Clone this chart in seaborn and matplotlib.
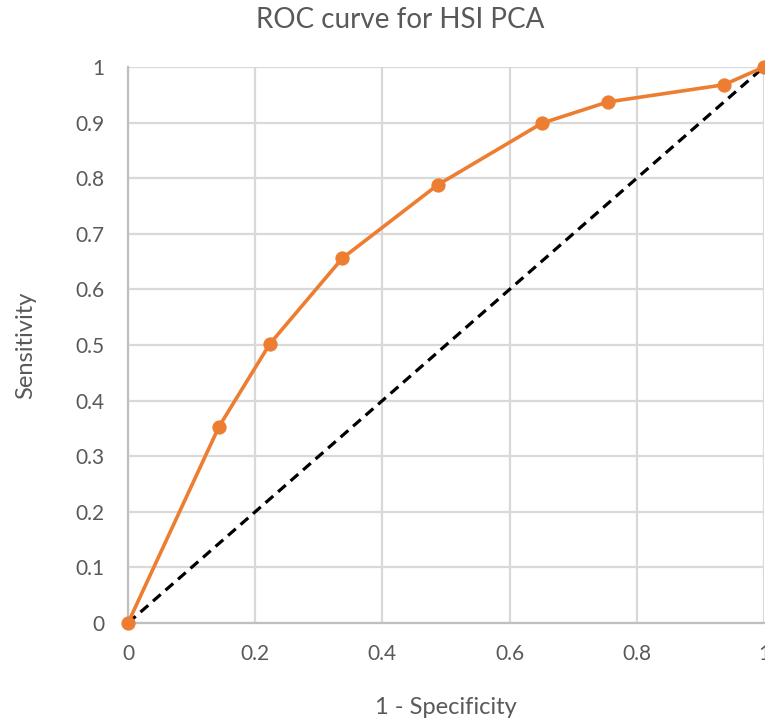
import matplotlib
matplotlib.use("Agg")
import matplotlib.pyplot as plt
import seaborn as sns
import pandas as pd

# ROC points for the HSI PCA classifier
fpr = [0.0, 0.143, 0.223, 0.337, 0.487, 0.651, 0.754, 0.937, 1.0]
tpr = [0.0, 0.353, 0.502, 0.656, 0.788, 0.899, 0.937, 0.968, 1.0]

# chance line
chance_x = [0.0, 1.0]
chance_y = [0.0, 1.0]

x_ticks = [0, 0.2, 0.4, 0.6, 0.8, 1]
x_tick_labels = ["0", "0.2", "0.4", "0.6", "0.8", "1"]
y_ticks = [0, 0.1, 0.2, 0.3, 0.4, 0.5, 0.6, 0.7, 0.8, 0.9, 1]
y_tick_labels = ["0", "0.1", "0.2", "0.3", "0.4", "0.5", "0.6", "0.7", "0.8", "0.9", "1"]

sns.set_theme(style="white")
plt.rcParams["font.family"] = ["Lato", "DejaVu Sans"]

text_color = "#595959"
grid_color = "#d9d9d9"
orange = "#ED7D31"

fig = plt.figure(figsize=(7.65, 7.21), dpi=100)
ax = fig.add_axes([0.1673, 0.1359, 0.8314, 0.7712])

roc = pd.DataFrame({"fpr": fpr, "tpr": tpr})
diag = pd.DataFrame({"x": chance_x, "y": chance_y})

sns.lineplot(data=diag, x="x", y="y", ax=ax, color="black", linewidth=2.3,
             linestyle=(0, (3.2, 2.0)), zorder=3)
sns.lineplot(data=roc, x="fpr", y="tpr", ax=ax, color=orange, linewidth=2.6,
             marker="o", markersize=9.5, markeredgecolor=orange,
             markerfacecolor=orange, zorder=4, sort=False)
for ln in ax.lines:
    ln.set_clip_on(False)

ax.set_xlim(0, 1)
ax.set_ylim(0, 1)
ax.set_xticks(x_ticks)
ax.set_xticklabels(x_tick_labels)
ax.set_yticks(y_ticks)
ax.set_yticklabels(y_tick_labels)

ax.grid(True, color=grid_color, linewidth=1.6)
ax.set_axisbelow(True)
for side in ["top", "right"]:
    ax.spines[side].set_visible(False)
for side in ["left", "bottom"]:
    ax.spines[side].set_color("#bfbfbf")
    ax.spines[side].set_linewidth(1.6)

ax.tick_params(axis="both", length=0, labelsize=15, colors=text_color)
ax.tick_params(axis="x", pad=15)
ax.tick_params(axis="y", pad=17)

ax.set_xlabel("1 - Specificity", fontsize=17, color=text_color, labelpad=24)
ax.set_ylabel("Sensitivity", fontsize=17, color=text_color, labelpad=28)
fig.suptitle("ROC curve for HSI PCA", fontsize=20, color=text_color, x=0.523, y=0.99)

fig.savefig("out.png", dpi=100)
